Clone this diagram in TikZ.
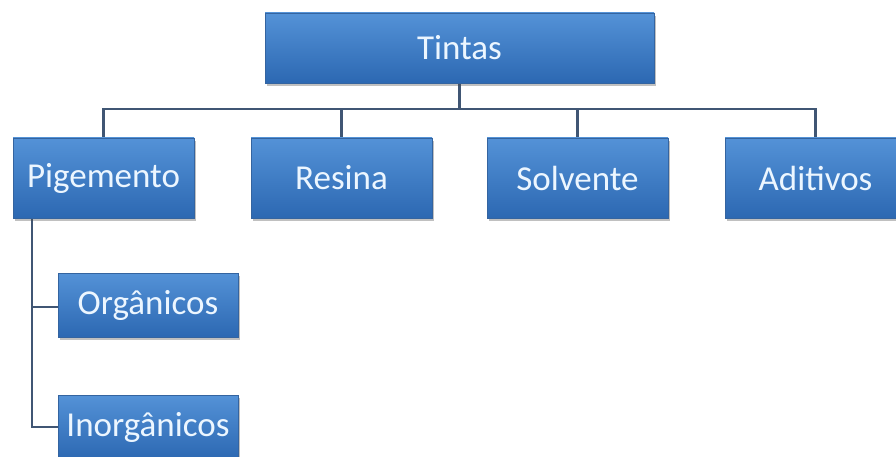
\documentclass[tikz,border=0pt]{standalone}
\usepackage{fontspec}
\setmainfont{Carlito}
\usetikzlibrary{shadows}
\definecolor{boxtop}{RGB}{84,146,215}
\definecolor{boxbot}{RGB}{44,104,178}
\definecolor{boxline}{RGB}{52,100,160}
\definecolor{conn}{RGB}{64,86,116}
\definecolor{txt}{RGB}{236,246,255}
\tikzset{
  box/.style={rectangle, draw=boxline, line width=0.8pt, top color=boxtop, bottom color=boxbot,
    text=txt, font=\fontsize{35}{40}\selectfont, inner sep=0pt,
    drop shadow={shadow xshift=1.5pt, shadow yshift=-3pt, opacity=0.35, fill=black!70}},
  link/.style={draw=conn, line width=2.4pt}
}
\begin{document}
\begin{tikzpicture}[x=1pt,y=1pt]
\fill[white] (0,0) rectangle (896,-457);
\useasboundingbox (0,0) rectangle (896,-457);
\clip (0,0) rectangle (896,-457);
% connectors first
\coordinate (tb) at (459.5,-83);
\coordinate (pt) at (103.5,-138);
\coordinate (rt) at (341.5,-138);
\coordinate (st) at (577.5,-138);
\coordinate (at) at (815.5,-138);
\coordinate (trunk) at (32,-218);
\coordinate (ol) at (58,-307);
\coordinate (il) at (58,-427);
\draw[link] (tb) -- ++(0,-26) -| (pt);
\draw[link] (tb) -- ++(0,-26) -| (rt);
\draw[link] (tb) -- ++(0,-26) -| (st);
\draw[link] (tb) -- ++(0,-26) -| (at);
\draw[link] (trunk) |- (ol);
\draw[link] (trunk) |- (il);
% boxes
\node[box, minimum width=389, minimum height=70] (tintas) at (459.5,-48) {Tintas};
\node[box, minimum width=181, minimum height=80] (pig) at (103.5,-178) {Pigemento};
\node[box, minimum width=181, minimum height=80] (res) at (341.5,-178) {Resina};
\node[box, minimum width=181, minimum height=80] (sol) at (577.5,-178) {Solvente};
\node[box, minimum width=181, minimum height=80] (adi) at (815.5,-178) {Aditivos};
\node[box, minimum width=180, minimum height=64] (org) at (148,-305) {Orgânicos};
\node[box, minimum width=180, minimum height=64] (inorg) at (148,-427) {Inorgânicos};
\end{tikzpicture}
\end{document}
